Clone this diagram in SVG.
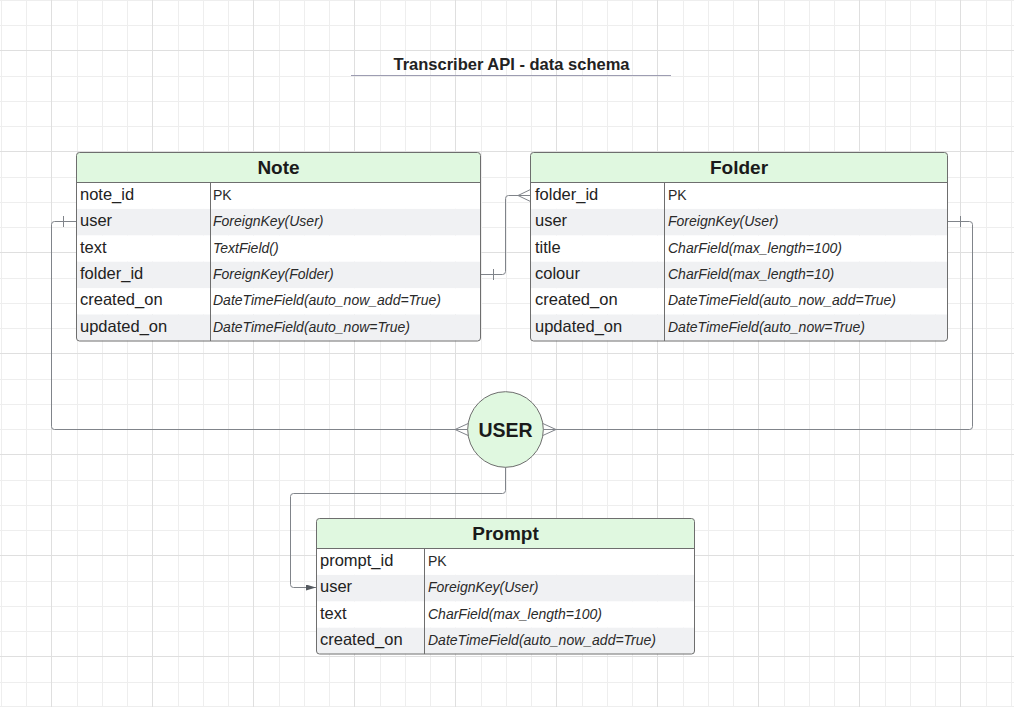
<svg xmlns="http://www.w3.org/2000/svg" width="1014" height="707" viewBox="0 0 1014 707">
<defs>
<marker id="arrow" viewBox="0 0 10 6" refX="10" refY="3" markerWidth="10" markerHeight="6" markerUnits="userSpaceOnUse" orient="auto">
<path d="M0,0 L10,3 L0,6 Z" fill="#555a60"/>
</marker>
<style>
.minor{fill:none;stroke:#eeeeee;stroke-width:1}
.major{fill:none;stroke:#dfdfdf;stroke-width:1}
.hdr{fill:#e0f8e0}
.alt{fill:#f0f1f3}
.frame{fill:none;stroke:#6e6e6e;stroke-width:1}
.div{stroke:#6e6e6e;stroke-width:1}
.title{font-family:"Liberation Sans",Arial,sans-serif;font-weight:bold;font-size:19px;fill:#1a1a1a;text-anchor:middle}
.fn{font-family:"Liberation Sans",Arial,sans-serif;font-size:16.5px;fill:#222}
.ty{font-family:"Liberation Sans",Arial,sans-serif;font-size:14px;font-style:italic;fill:#2a2a2a}
.pk{font-family:"Liberation Sans",Arial,sans-serif;font-size:14px;fill:#2a2a2a}
.conn{fill:none;stroke:#80848a;stroke-width:1}
</style>
</defs>
<rect width="1014" height="707" fill="#ffffff"/>
<g id="grid">
<path class="minor" d="M1.5 0V707M26.5 0V707M77.5 0V707M102.5 0V707M127.5 0V707M178.5 0V707M203.5 0V707M228.5 0V707M279.5 0V707M304.5 0V707M329.5 0V707M380.5 0V707M405.5 0V707M430.5 0V707M481.5 0V707M506.5 0V707M531.5 0V707M582.5 0V707M607.5 0V707M632.5 0V707M683.5 0V707M708.5 0V707M733.5 0V707M784.5 0V707M809.5 0V707M834.5 0V707M885.5 0V707M910.5 0V707M935.5 0V707M986.5 0V707M1011.5 0V707 M0 0.5H1014M0 25.5H1014M0 76.5H1014M0 101.5H1014M0 126.5H1014M0 177.5H1014M0 202.5H1014M0 227.5H1014M0 278.5H1014M0 303.5H1014M0 328.5H1014M0 379.5H1014M0 404.5H1014M0 429.5H1014M0 480.5H1014M0 505.5H1014M0 530.5H1014M0 581.5H1014M0 606.5H1014M0 631.5H1014M0 682.5H1014M0 706.5H1014"/>
<path class="major" d="M51.5 0V707M152.5 0V707M253.5 0V707M354.5 0V707M455.5 0V707M556.5 0V707M657.5 0V707M758.5 0V707M859.5 0V707M960.5 0V707 M0 50.5H1014M0 151.5H1014M0 252.5H1014M0 353.5H1014M0 454.5H1014M0 555.5H1014M0 656.5H1014"/>
</g>

<g id="title">
<text x="511.5" y="70" font-family="Liberation Sans, Arial, sans-serif" font-weight="bold" font-size="16.5" fill="#222" text-anchor="middle">Transcriber API - data schema</text>
<line x1="351" y1="75.5" x2="671" y2="75.5" stroke="#9d9db2" stroke-width="1"/>
</g>

<g id="connectors">
<path class="conn" d="M76.5 221.5 H54.5 Q51.5 221.5 51.5 224.5 V426.5 Q51.5 429.5 54.5 429.5 H467.7"/>
<path class="conn" d="M63.5 216 V227"/>
<path class="conn" d="M455 429.5 L468.2 423.5 M455 429.5 L468.2 435.5"/>

<path class="conn" d="M947.5 221.5 H969.5 Q972.5 221.5 972.5 224.5 V426.5 Q972.5 429.5 969.5 429.5 H543.3"/>
<path class="conn" d="M960.5 216 V227"/>
<path class="conn" d="M556 429.5 L542.8 423.5 M556 429.5 L542.8 435.5"/>

<path class="conn" d="M480.5 274.5 H502.5 Q505.5 274.5 505.5 271.5 V198.5 Q505.5 195.5 508.5 195.5 H530.5"/>
<path class="conn" d="M493.5 269 V280"/>
<path class="conn" d="M518 195.5 L530.5 189.5 M518 195.5 L530.5 201.5"/>

<path class="conn" d="M505.5 467.3 V490.5 Q505.5 493.5 502.5 493.5 H293.5 Q290.5 493.5 290.5 496.5 V584.5 Q290.5 587.5 293.5 587.5 H316" marker-end="url(#arrow)"/>
</g>

<g id="note">
<path class="hdr" d="M79.5 152.5 H477.5 Q480.5 152.5 480.5 155.5 V182.5 H76.5 V155.5 Q76.5 152.5 79.5 152.5 Z"/>
<rect x="77" y="182.5" width="403" height="26.4" fill="#ffffff"/>
<rect x="77" y="235.3" width="403" height="26.4" fill="#ffffff"/>
<rect x="77" y="288.1" width="403" height="26.4" fill="#ffffff"/>
<rect x="77" y="208.9" width="403" height="26.4" class="alt"/>
<rect x="77" y="261.7" width="403" height="26.4" class="alt"/>
<rect x="77" y="314.5" width="403" height="26" class="alt"/>
<rect x="76.5" y="152.5" width="404" height="188.5" rx="3" class="frame"/>
<line x1="76.5" y1="182.5" x2="480.5" y2="182.5" class="div"/>
<line x1="210.5" y1="182.5" x2="210.5" y2="341" class="div"/>
<text x="278.5" y="174" class="title">Note</text>
<text x="80" y="199.7" class="fn">note_id</text>
<text x="80" y="226.1" class="fn">user</text>
<text x="80" y="252.5" class="fn">text</text>
<text x="80" y="278.9" class="fn">folder_id</text>
<text x="80" y="305.3" class="fn">created_on</text>
<text x="80" y="331.7" class="fn">updated_on</text>
<text x="213" y="199.7" class="pk">PK</text>
<text x="213" y="226.1" class="ty">ForeignKey(User)</text>
<text x="213" y="252.5" class="ty">TextField()</text>
<text x="213" y="278.9" class="ty">ForeignKey(Folder)</text>
<text x="213" y="305.3" class="ty">DateTimeField(auto_now_add=True)</text>
<text x="213" y="331.7" class="ty">DateTimeField(auto_now=True)</text>
</g>

<g id="folder">
<path class="hdr" d="M533.5 152.5 H944.5 Q947.5 152.5 947.5 155.5 V182.5 H530.5 V155.5 Q530.5 152.5 533.5 152.5 Z"/>
<rect x="531" y="182.5" width="416" height="26.4" fill="#ffffff"/>
<rect x="531" y="235.3" width="416" height="26.4" fill="#ffffff"/>
<rect x="531" y="288.1" width="416" height="26.4" fill="#ffffff"/>
<rect x="531" y="208.9" width="416" height="26.4" class="alt"/>
<rect x="531" y="261.7" width="416" height="26.4" class="alt"/>
<rect x="531" y="314.5" width="416" height="26" class="alt"/>
<rect x="530.5" y="152.5" width="417" height="188.5" rx="3" class="frame"/>
<line x1="530.5" y1="182.5" x2="947.5" y2="182.5" class="div"/>
<line x1="664.5" y1="182.5" x2="664.5" y2="341" class="div"/>
<text x="739" y="174" class="title">Folder</text>
<text x="535" y="199.7" class="fn">folder_id</text>
<text x="535" y="226.1" class="fn">user</text>
<text x="535" y="252.5" class="fn">title</text>
<text x="535" y="278.9" class="fn">colour</text>
<text x="535" y="305.3" class="fn">created_on</text>
<text x="535" y="331.7" class="fn">updated_on</text>
<text x="668" y="199.7" class="pk">PK</text>
<text x="668" y="226.1" class="ty">ForeignKey(User)</text>
<text x="668" y="252.5" class="ty">CharField(max_length=100)</text>
<text x="668" y="278.9" class="ty">CharField(max_length=10)</text>
<text x="668" y="305.3" class="ty">DateTimeField(auto_now_add=True)</text>
<text x="668" y="331.7" class="ty">DateTimeField(auto_now=True)</text>
</g>

<g id="user">
<circle cx="505.5" cy="429.5" r="37.8" fill="#e0f8e0" stroke="#6e6e6e" stroke-width="1"/>
<text x="505.5" y="436.5" font-family="Liberation Sans, Arial, sans-serif" font-weight="bold" font-size="19.5" fill="#1a1a1a" text-anchor="middle">USER</text>
</g>

<g id="prompt">
<path class="hdr" d="M319.5 518.5 H691.5 Q694.5 518.5 694.5 521.5 V548.5 H316.5 V521.5 Q316.5 518.5 319.5 518.5 Z"/>
<rect x="317" y="548.5" width="377" height="26.4" fill="#ffffff"/>
<rect x="317" y="601.3" width="377" height="26.4" fill="#ffffff"/>
<rect x="317" y="574.9" width="377" height="26.4" class="alt"/>
<rect x="317" y="627.7" width="377" height="26" class="alt"/>
<rect x="316.5" y="518.5" width="378" height="135.5" rx="3" class="frame"/>
<line x1="316.5" y1="548.5" x2="694.5" y2="548.5" class="div"/>
<line x1="424.5" y1="548.5" x2="424.5" y2="654" class="div"/>
<text x="505.5" y="540" class="title">Prompt</text>
<text x="320" y="565.7" class="fn">prompt_id</text>
<text x="320" y="592.1" class="fn">user</text>
<text x="320" y="618.5" class="fn">text</text>
<text x="320" y="644.9" class="fn">created_on</text>
<text x="428" y="565.7" class="pk">PK</text>
<text x="428" y="592.1" class="ty">ForeignKey(User)</text>
<text x="428" y="618.5" class="ty">CharField(max_length=100)</text>
<text x="428" y="644.9" class="ty">DateTimeField(auto_now_add=True)</text>
</g>
</svg>
